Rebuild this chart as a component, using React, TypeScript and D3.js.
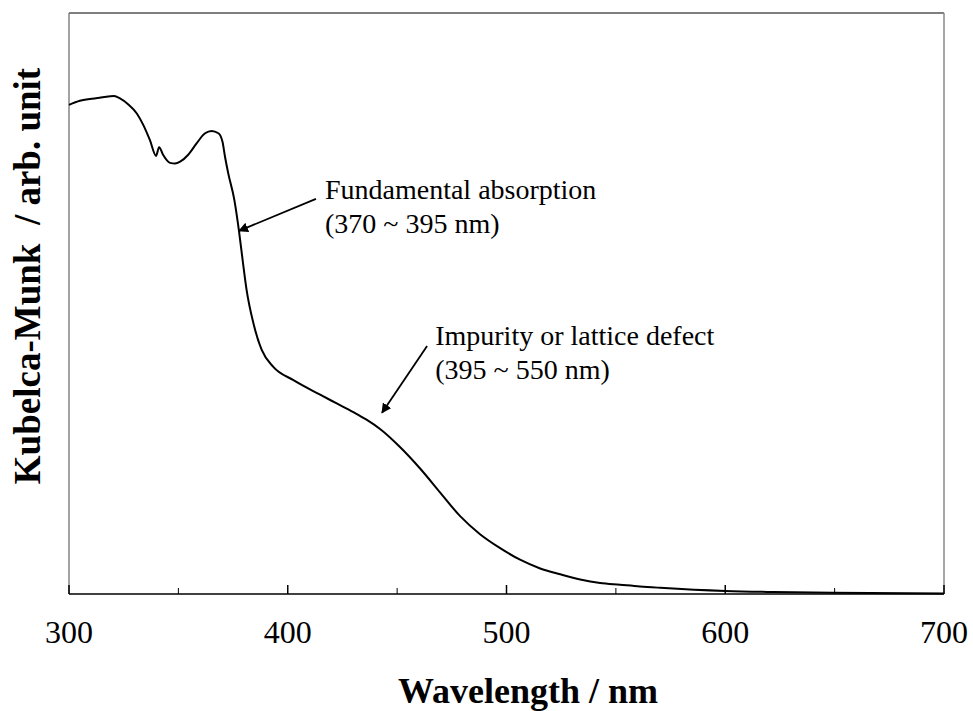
import React from "react";
import * as d3 from "d3";

const wavelengths = [300,305,309.6,314,317,320.6,323.3,327,331,334,337,339.8,341.2,343,346.2,348.5,350.8,354.5,358.4,362.2,365.2,368.3,370.2,371.3,372.8,375.6,377.7,379.5,381.2,384.3,388.1,393.4,402.6,414.8,422.4,430,436,442.2,451.3,460.5,469.6,478.8,487.9,497.1,506.2,515.4,524.5,533.7,542.8,551.9,561,570.2,600,622,649,700];
const kmValues = [84.2,84.9,85.2,85.4,85.6,85.7,85.3,84.3,82.7,80.7,78.1,75.4,76.9,75.6,74.2,74.1,74.4,75.6,77.6,79.3,79.7,79.3,77.8,75.3,72.4,67.8,62.5,57.1,52.3,46.6,42.0,39.1,36.8,34.3,32.8,31.3,30.0,28.4,25.3,21.6,17.5,13.4,10.3,7.9,5.9,4.4,3.4,2.5,1.9,1.6,1.3,1.07,0.52,0.34,0.22,0.09];

const majorTicks = [300, 400, 500, 600, 700];
const minorTicks = [350, 450, 550, 650];

const annotations = [
  { lines: ["Fundamental absorption", "(370 ~ 395 nm)"], textX: 417, textY: 68.0, fromX: 412.9, fromY: 68.0, toX: 377.7, toY: 62.5 },
  { lines: ["Impurity or lattice defect", "(395 ~ 550 nm)"], textX: 467.4, textY: 42.9, fromX: 463.7, fromY: 42.7, toX: 443.1, toY: 31.2 },
];

const W = 973, H = 711;
const left = 69, right = 944, top = 13, bottom = 594;

export default function App() {
  const x = d3.scaleLinear().domain([300, 700]).range([left, right]);
  const y = d3.scaleLinear().domain([0, 100]).range([bottom, top]);
  const data = wavelengths.map((w, i) => [w, kmValues[i]] as [number, number]);
  const line = d3.line<[number, number]>().x(d => x(d[0])).y(d => y(d[1])).curve(d3.curveMonotoneX);
  const font = "'Liberation Serif', 'Times New Roman', serif";

  return (
    <svg width={W} height={H} style={{ position: "absolute", left: 0, top: 0, background: "#fff" }}>
      <defs>
        <marker id="ah" viewBox="0 0 10 10" refX="9" refY="5" markerWidth="10" markerHeight="10" markerUnits="userSpaceOnUse" orient="auto">
          <path d="M0,0 L10,5 L0,10 z" fill="#000" />
        </marker>
      </defs>
      <rect x={0} y={0} width={W} height={H} fill="#fff" />
      <line x1={left} y1={top} x2={right} y2={top} stroke="#000" strokeWidth={1.2} />
      <line x1={right} y1={top} x2={right} y2={bottom} stroke="#888" strokeWidth={1.5} />
      <line x1={left} y1={top} x2={left} y2={bottom} stroke="#666" strokeWidth={1.2} />
      <line x1={left} y1={bottom} x2={right} y2={bottom} stroke="#000" strokeWidth={1.5} />
      {majorTicks.map(t => (
        <line key={"M" + t} x1={x(t)} x2={x(t)} y1={bottom} y2={bottom - 9} stroke="#000" strokeWidth={1.5} />
      ))}
      {minorTicks.map(t => (
        <line key={"m" + t} x1={x(t)} x2={x(t)} y1={bottom} y2={bottom - 6} stroke="#000" strokeWidth={1} />
      ))}
      {majorTicks.map(t => (
        <text key={"L" + t} x={x(t)} y={643} textAnchor="middle" fontFamily={font} fontSize={32} fill="#000">{t}</text>
      ))}
      <path d={line(data) || ""} fill="none" stroke="#000" strokeWidth={2} />
      {annotations.map((a, i) => (
        <g key={i}>
          <line x1={x(a.fromX)} y1={y(a.fromY)} x2={x(a.toX)} y2={y(a.toY)} stroke="#000" strokeWidth={1.8} markerEnd="url(#ah)" />
          {a.lines.map((l, j) => (
            <text key={j} x={x(a.textX)} y={y(a.textY) + j * 34} fontFamily={font} fontSize={28} fill="#000">{l}</text>
          ))}
        </g>
      ))}
      <text x={528} y={703} textAnchor="middle" fontFamily={font} fontWeight="bold" fontSize={36} fill="#000">Wavelength / nm</text>
      <text transform="translate(40,276) rotate(-90)" textAnchor="middle" fontFamily={font} fontWeight="bold" fontSize={37} fill="#000" style={{ whiteSpace: "pre" }}>{"Kubelca-Munk  / arb. unit"}</text>
    </svg>
  );
}
